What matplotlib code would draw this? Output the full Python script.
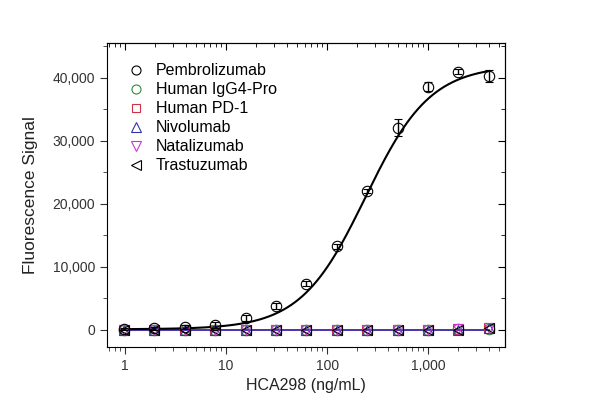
import numpy as np
import matplotlib.pyplot as plt
from matplotlib.lines import Line2D
from matplotlib.ticker import FuncFormatter, MultipleLocator, LogLocator, NullFormatter

plt.rcParams['font.family'] = ['Liberation Sans', 'DejaVu Sans']

conc = [0.98, 1.95, 3.9, 7.8, 15.6, 31.25, 62.5, 125, 250, 500, 1000, 2000, 4000]

pembro = [150, 250, 450, 800, 1900, 3800, 7300, 13300, 22100, 32100, 38600, 41000, 40300]
pembro_err = [200, 250, 300, 500, 500, 500, 400, 400, 300, 1300, 700, 400, 900]

igg4 = [0, 0, 0, 0, 0, 0, 0, 0, 0, 0, 50, 100, 200]
pd1 = [0, 0, 0, 0, 0, 0, 0, 0, 0, 0, 50, 100, 250]
nivo = [0, 0, 0, 0, 0, 0, 0, 0, 0, 0, 0, 50, 250]
nata = [0, 0, 0, 0, 0, 0, 0, 0, 0, 0, 50, 100, 300]
trast = [0, 0, 0, 0, 0, 0, 0, 0, 0, 0, 0, 50, 250]

# 4PL fit parameters for pembrolizumab
fit_bottom, fit_top, fit_ec50, fit_hill = 100, 42000, 240, 1.35


def four_pl(x):
    return fit_bottom + (fit_top - fit_bottom) / (1 + (fit_ec50 / x) ** fit_hill)


fig = plt.figure(figsize=(6, 4.19), dpi=100)
ax = fig.add_axes([0.178, 0.172, 0.664, 0.725])

xs = np.logspace(np.log10(0.98), np.log10(4000), 300)
ax.plot(xs, four_pl(xs), color='black', lw=1.5, zorder=3)

# flat fits for negative controls
ax.plot(conc, [np.mean(nata)] * len(conc), color='#cc33cc', lw=1.2, zorder=2)
ax.plot(conc, [np.mean(nivo)] * len(conc), color='#3333aa', lw=1.2, zorder=2)

ms = 7.5
mew = 0.8
series = [
    ('Human IgG4-Pro', igg4, 'o', '#2e8b3a', ms),
    ('Human PD-1', pd1, 's', '#cc3344', ms - 1),
    ('Nivolumab', nivo, '^', '#3333aa', ms),
    ('Natalizumab', nata, 'v', '#cc33cc', ms),
    ('Trastuzumab', trast, '<', 'black', ms),
]
ax.errorbar(conc, pembro, yerr=pembro_err, fmt='o', mfc='none', mec='black', mew=mew,
            ecolor='black', ms=ms, capsize=3, elinewidth=1, zorder=5)
for name, vals, mk, col, size in series:
    ax.plot(conc, vals, mk, mfc='none', mec=col, ms=size, mew=mew, zorder=4)

leg_ms = 6.5
handles = [Line2D([], [], ls='none', marker='o', mfc='none', mec='black', ms=leg_ms, mew=mew)]
labels = ['Pembrolizumab']
for name, vals, mk, col, size in series:
    handles.append(Line2D([], [], ls='none', marker=mk, mfc='none', mec=col,
                          ms=leg_ms - (1 if mk == 's' else 0), mew=mew))
    labels.append(name)

ax.set_xscale('log')
ax.set_xlim(0.66, 5800)
ax.set_ylim(-2700, 45500)

ax.xaxis.set_major_locator(LogLocator(base=10, numticks=10))
ax.xaxis.set_minor_locator(LogLocator(base=10, subs=np.arange(2, 10), numticks=20))
ax.xaxis.set_minor_formatter(NullFormatter())
ax.xaxis.set_major_formatter(FuncFormatter(lambda v, p: f'{v:,.0f}'))
ax.yaxis.set_major_locator(MultipleLocator(10000))
ax.yaxis.set_minor_locator(MultipleLocator(5000))
ax.yaxis.set_major_formatter(FuncFormatter(lambda v, p: f'{v:,.0f}'))

ax.tick_params(which='both', direction='out', labelsize=10, colors='#333333', labelcolor='#333333')
ax.tick_params(which='major', length=5)
ax.tick_params(which='minor', length=3)

top = ax.secondary_xaxis('top')
top.xaxis.set_major_locator(LogLocator(base=10, numticks=10))
top.xaxis.set_minor_locator(LogLocator(base=10, subs=np.arange(2, 10), numticks=20))
top.tick_params(which='both', direction='in', labeltop=False)
top.tick_params(which='major', length=5)
top.tick_params(which='minor', length=3)
right = ax.secondary_yaxis('right')
right.yaxis.set_major_locator(MultipleLocator(10000))
right.yaxis.set_minor_locator(MultipleLocator(5000))
right.tick_params(which='both', direction='in', labelright=False)
right.tick_params(which='major', length=5)
right.tick_params(which='minor', length=3)

ax.set_xlabel('HCA298 (ng/mL)', fontsize=11.5, color='#222222')
ax.set_ylabel('Fluorescence Signal', fontsize=12.5, color='#222222', labelpad=10)

ax.legend(handles, labels, loc='upper left', frameon=False, fontsize=11.5, handletextpad=0.3,
          handlelength=1.8, labelspacing=0.25, bbox_to_anchor=(0.01, 0.97), borderaxespad=0.3)

fig.savefig('out.png', dpi=100)
